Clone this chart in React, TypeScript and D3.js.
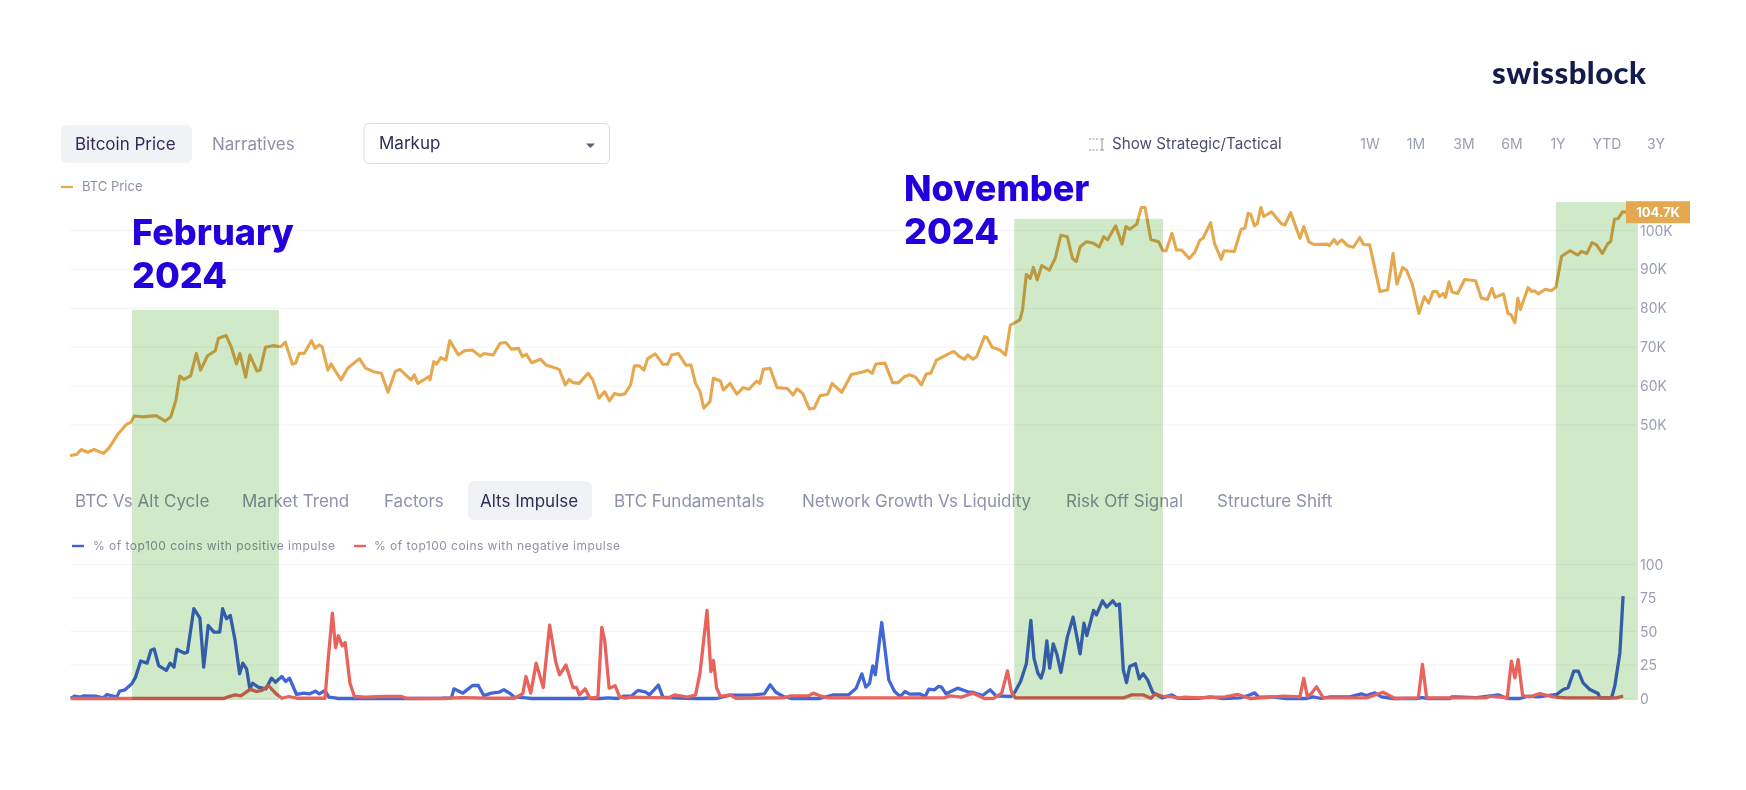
import * as d3 from "d3";

// all series are [day since start, value]
const btcPrice: [number, number][] = [
  [0,42.1],[2.2,42.5],[3.5,43.7],[5.5,43],[7.5,43.7],[10.5,42.7],[12.1,44],[15.2,47.9],[17.7,50.2],[18.9,50.6],[20.1,52.3],[22.6,52.1],[26.9,52.4],[29.8,51],[31.5,52.1],[33.1,56.4],[34.3,62.6],[35.6,61.7],[37.7,62.6],[39.5,68.4],[40.8,64.1],[43,67.8],[45.4,69.1],[46.4,72.3],[48.8,73],[50.4,70.1],[52,65.7],[53.1,68.4],[54.9,62.3],[56.2,68],[58.4,63.9],[59.4,64.1],[61.1,70],[63.4,70.4],[65.8,70.1],[67.3,71.3],[69.5,65.6],[70.5,65.9],[71.6,68.4],[73.2,68.4],[75.5,71.7],[76.6,69.7],[77.9,70.6],[78.8,70.1],[80.6,64.1],[81.6,65.7],[83.1,63.7],[84.7,61.6],[86.8,64.6],[89.3,66.3],[90.5,67],[92.4,64.6],[94.8,63.7],[97.3,63.3],[99.4,58.4],[101.6,63.7],[103.1,64.3],[106.6,61.6],[107.6,62.9],[108.7,60.7],[112.1,62.4],[112.5,61.6],[113.7,66.3],[114.6,65.7],[115.9,67.3],[117.5,66.7],[118.7,71.7],[121.4,68],[123.3,69.1],[125.7,69.3],[128.2,67.7],[129.4,68.4],[132.3,68],[134.4,71],[136.2,71.2],[138,69.5],[140.2,69.7],[141.4,67.6],[142.6,68.2],[144.3,66],[147.1,66.9],[148.8,65.4],[152.9,64.3],[154.8,60.3],[156,61.7],[157.2,60.9],[159.1,60.7],[161.9,63.3],[163.4,61.6],[165.3,56.9],[167.1,58.6],[168.6,56.2],[170.2,58.1],[171.8,57.7],
  [173.4,58],[175.2,60.3],[176.4,65.2],[177.9,65.2],[179.4,64.1],[180.5,67],[182.9,68.3],[185.3,65.6],[186.8,65.6],[188,68],[190.1,68.4],[192.5,65.4],[194.1,65.4],[195.5,60.7],[196.9,58.6],[198.1,54.3],[200,56],[201.1,62],[203.3,61.3],[204.2,59],[206.3,60.7],[208.4,57.9],[210.4,59.6],[212.2,59.2],[214.6,61.3],[215.6,60.7],[216.7,64.3],[218.8,64.6],[221,59.6],[224.2,59.4],[226,57.7],[227.2,59.3],[229,58.1],[231.1,54.1],[232.6,54.3],[234.4,57.5],[236.8,57.9],[238.2,60.7],[241.2,58.4],[244.2,63],[248.1,63.7],[249.3,64.1],[250.7,63.3],[251.9,65.7],[254.7,65.9],[257.1,60.9],[258.9,60.9],[260.7,62.4],[262.5,62.9],[264.3,62.3],[266.1,60.3],[267.6,63.1],[269,63.3],[270.8,66.7],[273.2,67.7],[276.2,68.9],[278,67.6],[279.6,66.9],[280.6,68],[282.2,66.9],[283.4,67.6],[285.8,72.7],[286.6,72.5],[288.2,70],[290.6,69.3],[292.4,68],[293.9,75.7],[296.9,77],[297.7,79.6],[298.9,88.7],[300.1,87.7],[301.1,90.5],[302.3,87.3],[303.7,91],[306.1,89.8],[307.9,92.8],[309.7,98.8],[311.7,98.4],[313.3,92.8],[314.5,92],[315.7,95.8],[317.7,97.1],[319.9,96.7],[321.7,95.8],[323.1,98.4],[324.3,97.6],[326.8,101.2],[328.8,96.5],[330,101],[331.2,100.3],[333.4,101.6],[334.8,105.9],[336,105.9],[337.8,97.7],[340.2,97.1],[341.6,94.8],[342.6,94.8],[344.4,99.3],[345.8,95],[347.4,95],[349.8,92.8],[351.6,94.5],[353.1,97.5],
  [354.1,98],[356.5,102],[357.7,96.7],[359.8,92.6],[360.7,94.8],[363.9,94.6],[366,100.3],[367.2,100.6],[368.2,104.4],[369,104.2],[370.2,101.2],[371.1,101.8],[372.2,105.9],[373.1,103.6],[375.5,104.8],[378.5,101.8],[379.7,101.4],[381.5,104.6],[384.4,98],[385.6,101],[387.2,97.1],[388.8,96.4],[392.8,96.5],[393.6,96.1],[395.1,97.7],[396,96.5],[397.5,97.6],[399.3,96.1],[401.1,95.7],[403.1,98.2],[404.3,96.4],[406.2,96.3],[409.4,84.3],[411.8,84.7],[413.5,94.1],[414.7,86.2],[416.5,90.5],[417.7,89.8],[419.5,86.2],[421.6,78.7],[423.3,83],[424.6,81.3],[426,84.3],[427.2,84.3],[428,83],[429.2,83.8],[429.9,82.8],[431,86.8],[432,84.1],[433.7,83.8],[435.9,87.4],[439.3,87.1],[441.1,82.6],[443,82.3],[444.4,85.1],[445.4,82.8],[448,83.7],[449.4,78.7],[450.4,78.3],[451.6,76.3],[452.5,82.6],[453.3,79.7],[455.7,85.3],[456.9,84.3],[457.7,84.5],[458.9,83.7],[461.1,84.9],[462.9,84.5],[464.4,85.4],[466.2,93.4],[468.8,94.8],[471.2,93.7],[472.4,94.6],[474.1,94.1],[475.7,96.9],[477.1,96.3],[478.9,94.1],[480.7,96.7],[481.5,97.1],[482.7,102.9],[483.9,103.1],[485.2,104.8],[486.6,104.7],
];

const positiveImpulse: [number, number][] = [
  [0.2,0.2],[1.4,1.7],[3.2,1],[4.4,2],[8,1.7],[10.4,0.5],[11.6,3],[14.6,1],[15.5,5.5],[17.2,6.5],[19.3,11],[20.5,16],[22.1,28],[24.1,26.4],[25.3,36],[26.3,37],[27.7,24.6],[30.1,21],[31.3,26.4],[32.5,23.4],[33.4,36.6],[35.8,33.8],[36.7,34.6],[38.7,67],[40.6,60],[41.8,23.4],[43.2,54.5],[45,49.5],[46.8,49.5],[47.7,67],[48.9,59.5],[50.1,62],[51.6,43.3],[53,18.4],[54,26.4],[55.2,22],[56.2,7.2],[57.1,11.4],[58.8,8.5],[61.2,7.2],[63,15.2],[64.2,12.2],[66.2,16.4],[67.4,12.7],[68.6,15.2],[70.8,3],[73.1,4],[74.9,3.5],[76.7,5.5],[77.9,3.5],[79.7,6],[80.9,1],[82.7,0.5],[83.9,0],[103,0],[116.2,0.2],[119.2,0.5],[120,7.2],[122.8,4],[125.8,9.7],[127.6,9.7],[129.3,2.2],[131.7,4],[134.1,4.7],[135.6,6.5],[137.7,3.5],[138.9,1],[142.5,0.5],[144.3,0],[160.4,0],[161.6,0.5],[162.8,0],[165.8,0],[168.2,0.5],[171.2,0],[173,1.7],[175.4,1.7],[177.2,5.5],
  [177.6,6],[180,4.7],[181.1,2.7],[183.9,10],[185.3,1],[188.3,0.5],[194.9,0],[202.1,0],[206.3,2.5],[212.8,2.5],[217,3.5],[218.8,10.2],[220.6,4.7],[223,1.5],[225.4,0],[234.4,0],[238.6,2.7],[243.3,2.7],[245.7,7.7],[247.5,18.4],[248.7,8.5],[249.9,11.4],[250.9,24.4],[251.7,17.7],[253.7,56.7],[255.9,13.9],[257.7,5.2],[259.5,1.5],[260.9,5.2],[262.5,3.2],[265.5,3.5],[267.3,1.5],[268.4,7],[270.2,6.5],[271.4,9],[272.4,8.5],[273.8,3.5],[277.4,7.7],[281,4.7],[282.2,4.7],[285.2,2.2],[287.6,6.5],[289.4,2],[294.2,1.5],[295.4,5.2],[297.1,12.7],[298.9,25.9],[300.3,58.2],[301.3,30],[302.5,18.9],[303.5,15.2],[304.3,21.4],[305.3,43],[306.2,22.6],[307.3,40.8],[308.5,32.6],[309.7,19.4],[311.7,45.8],[313.5,60.7],[315.7,33.3],[316.9,56.2],[317.8,47],[319.9,65.7],[320.8,62.4],[322.7,72.9],[324,68.2],[325.9,72.9],[327,69.4],[328,70.6],[329.2,21.4],[330.2,11.9],[331.2,23.9],[333,25.9],[334.2,14.7],[335.4,18.4],[336.8,13.9],[338.4,4.5],[340.2,2],[341.4,0.5],[344.4,2.7],[346.2,0.2],[353.1,0.2],
  [356.3,1.2],[360.4,0],[365.6,0.5],[368.2,2.2],[370.3,4.2],[371.4,1.2],[373.4,1],[375.5,1.2],[380.2,0],[386.5,0],[388.5,1.2],[391.1,0],[393.8,1.2],[400,1.2],[403.6,3.5],[405.2,2.2],[407.8,4.2],[409.9,1.2],[413.5,0],[420.8,0],[422.7,0.7],[424.5,0],[431.3,0],[431.8,1.2],[433.3,1.2],[439.6,0.7],[446.4,2.7],[447.9,1.2],[449.5,0],[453.1,0],[455.7,1.7],[458.9,1.2],[464.6,3],[466.7,6.7],[468.2,8],[470,20.4],[471.4,20.4],[472.9,11.7],[475,6.7],[477.6,3.7],[478.1,0.5],[481.8,0.5],[482.8,9.2],[484.4,34],[485.4,76.4],
];

const negativeImpulse: [number, number][] = [
  [0.2,0],[48,0],[49.2,1],[51.6,2.7],[53.4,2],[56.4,7],[58.2,5.2],[60,6],[62,9.7],[64.2,4],[66.2,0.2],[68.4,1.5],[70.8,0.2],[79.7,0.2],[80.6,26.4],[82,63.7],[83,38],[83.9,46.8],[85.1,39.3],[86,41.8],[87.5,11.4],[88.9,1.5],[92.3,1],[98.3,1.5],[103.6,1.5],[105.4,0],[116.2,0],[122.2,0.7],[131.7,0.2],[138.9,0.2],[141.5,3.5],[142.5,16.4],[144,4],[145.7,26.4],[147.9,8.2],[149.9,54.7],[151.8,27.4],[153,17.7],[155,25],[157.2,8.2],[158.3,8.2],[159.2,2.7],[161,7.2],[162.5,0.2],[165,1],[166.2,53],[167.1,43.5],[168.5,7.7],[170.4,9.5],[171.8,1],[173.6,0.2],[175.2,1],
  [187.1,0.5],[188.9,2.7],[193.1,1],[195.5,2.7],[196.9,18.9],[199.1,65.7],[200.3,20.1],[201.1,28.4],[202.1,7.7],[203.3,1.5],[206.3,2.7],[208.1,0.2],[223,0.5],[225.4,2],[230.8,2],[232.3,4],[234.4,2],[236.8,0.5],[273.2,0.5],[275,2],[278.6,1],[282.2,4],[285.8,0],[288.8,0.2],[291.2,4],[293,20.6],[294.2,5.2],[295.4,0.5],[329.4,0.5],[331.8,2.7],[335.4,2.7],[337.8,0.2],[339.2,3.5],[341.4,1.5],[343.8,1.5],[346.2,0.2],[348.6,1],[353.1,0.5],
  [361,1.2],[365.1,3],[368.8,0],[379.2,1.7],[384.4,1.2],[385.6,15],[386.7,1.7],[388,3.7],[389.6,8.7],[391.7,0.5],[405.2,0.5],[410.4,4.7],[414.1,0],[421.4,0.5],[422.7,25.4],[424,0.5],[442.7,0.5],[443.8,1.7],[449.2,0.5],[450.5,27.9],[451.6,15.4],[452.6,29.1],[454,2.2],[456.3,1.2],[459.4,3.7],[463.5,1.2],[467.7,0.5],[483.3,0.5],[485.4,1.7],
];

const priceTicks = [50, 60, 70, 80, 90, 100];
const impulseTicks = [0, 25, 50, 75, 100];
const rangeButtons: [string, number][] = [["1W",1370],["1M",1416],["3M",1464],["6M",1512],["1Y",1558],["YTD",1607],["3Y",1656]];
const indicatorTabs: [string, number][] = [["BTC Vs Alt Cycle",75],["Market Trend",242],["Factors",384],["Alts Impulse",480],["BTC Fundamentals",614],["Network Growth Vs Liquidity",802],["Risk Off Signal",1066],["Structure Shift",1217]];
// [first day, last day, top of band in BTC price]
const markupBands: [number, number, number][] = [[19.4,65.3,79.6],[295.1,341.6,103],[464.4,490,107.3]];

const FONT = "Inter, 'Noto Sans', sans-serif";
const GREY = "#8d91aa";
const NAVY = "#2b2f57";

export default function App() {
  const x = d3.scaleLinear().domain([0, 486]).range([70, 1625]);
  const yPrice = d3.scaleLinear().domain([50, 100]).range([425, 230.5]);
  const yImpulse = d3.scaleLinear().domain([0, 100]).range([698.5, 564.5]);

  const priceLine = d3.line<[number, number]>().x((d) => x(d[0])).y((d) => yPrice(d[1]));
  const impulseLine = d3.line<[number, number]>().x((d) => x(d[0])).y((d) => yImpulse(d[1]));
  const last = btcPrice[btcPrice.length - 1];

  return (
    <svg width={1746} height={790} style={{ position: "absolute", left: 0, top: 0, display: "block", background: "#fff" }} fontFamily={FONT}>
      <text x={1492} y={84} fontFamily="Lato, sans-serif" fontWeight={900} fontSize={31} fill="#141c4b" textLength={154}>swissblock</text>

      <rect x={61} y={125} width={131} height={38} rx={6} fill="#f1f2f6" />
      <text x={75} y={149.5} fontSize={17} fill={NAVY}>Bitcoin Price</text>
      <text x={212} y={149.5} fontSize={17} fill={GREY}>Narratives</text>
      <rect x={364} y={123.5} width={245.5} height={40} rx={5} fill="#fff" stroke="#dcdde4" />
      <text x={379} y={149} fontSize={17} fill={NAVY}>Markup</text>
      <path d="M586,143.5h9l-4.5,4.5z" fill="#5c5f78" />

      <g stroke="#8d91aa" fill="none">
        <path d="M1089,139h9M1089,150h9" strokeDasharray="2 1.5" />
        <path d="M1102,139v11M1100,139h4M1100,150h4" />
      </g>
      <text x={1112} y={149} fontSize={15.2} fill="#4c4f70">Show Strategic/Tactical</text>
      {rangeButtons.map(([label, cx]) => (
        <text key={label} x={cx} y={149} fontSize={14} textAnchor="middle" fill="#9a9eb5">{label}</text>
      ))}

      <path d="M61,187h12" stroke="#e5a84f" strokeWidth={2.2} />
      <text x={82} y={191} fontSize={13} fill={GREY}>BTC Price</text>

      {priceTicks.map((t) => (
        <g key={t}>
          <line x1={70} x2={1636} y1={yPrice(t)} y2={yPrice(t)} stroke="#f3f3f6" />
          <text x={1640} y={yPrice(t) + 5} fontSize={14} fill="#9a9eb5">{t}K</text>
        </g>
      ))}
      <path d={priceLine(btcPrice) ?? ""} fill="none" stroke="#e5a84f" strokeWidth={3.1} strokeLinejoin="round" />

      <rect x={468} y={481} width={124} height={39} rx={6} fill="#f1f2f6" />
      {indicatorTabs.map(([label, tx]) => (
        <text key={label} x={tx} y={506.5} fontSize={17} fill={label === "Alts Impulse" ? NAVY : GREY}>{label}</text>
      ))}

      <path d="M72,546h12" stroke="#3f62d0" strokeWidth={2.4} />
      <text x={93} y={550} fontSize={12} fill={GREY} textLength={242}>% of top100 coins with positive impulse</text>
      <path d="M354,546h12" stroke="#e8635c" strokeWidth={2.4} />
      <text x={374} y={550} fontSize={12} fill={GREY} textLength={246}>% of top100 coins with negative impulse</text>

      {impulseTicks.map((t) => (
        <g key={t}>
          <line x1={70} x2={1636} y1={yImpulse(t)} y2={yImpulse(t)} stroke="#f5f5f7" />
          <text x={1640} y={yImpulse(t) + 5} fontSize={14} fill="#9a9eb5">{t}</text>
        </g>
      ))}
      <path d={impulseLine(positiveImpulse) ?? ""} fill="none" stroke="#4066d8" strokeWidth={3.3} strokeLinejoin="round" />
      <path d={impulseLine(negativeImpulse) ?? ""} fill="none" stroke="#e8635c" strokeWidth={3.3} strokeLinejoin="round" />

      {markupBands.map(([a, b, top]) => (
        <rect key={a} x={x(a)} y={yPrice(top)} width={x(b) - x(a)} height={700 - yPrice(top)} fill="#d0e9c8" style={{ mixBlendMode: "multiply" }} />
      ))}

      <rect x={1626} y={yPrice(last[1]) - 11} width={64} height={22} fill="#e3a850" />
      <text x={1658} y={yPrice(last[1]) + 4.5} fontSize={13} fontWeight={700} textAnchor="middle" fill="#fff">{last[1]}K</text>

      <g fontWeight={800} fontSize={36} fill="#2200dd">
        <text x={132} y={245}>February</text>
        <text x={132} y={288}>2024</text>
        <text x={904} y={201}>November</text>
        <text x={904} y={244}>2024</text>
      </g>
    </svg>
  );
}
